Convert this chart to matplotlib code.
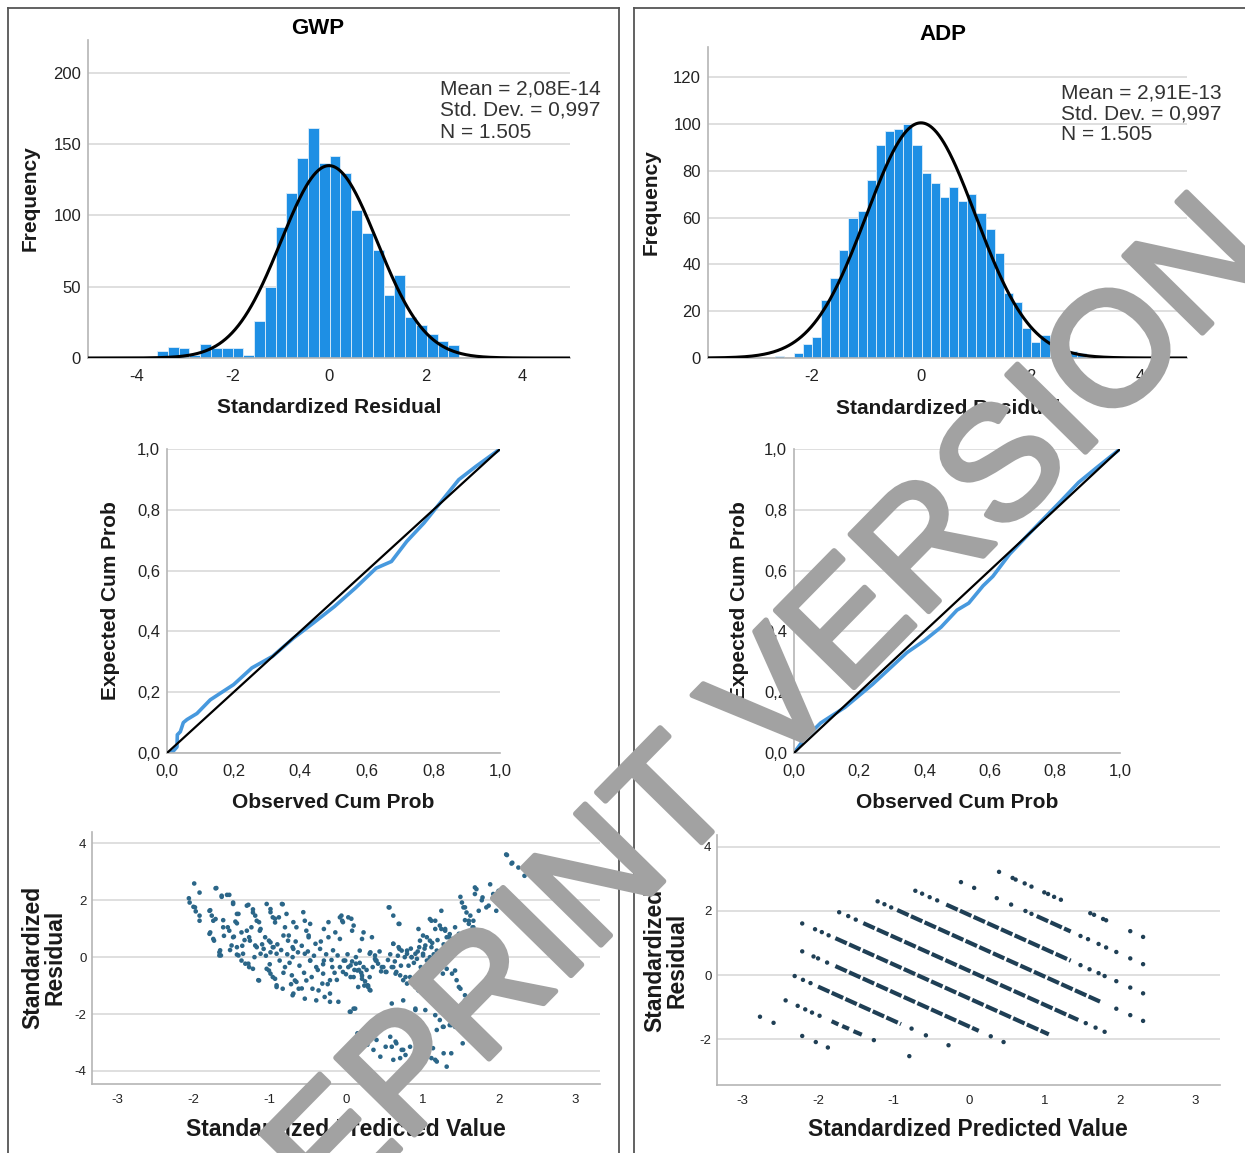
import numpy as np
import matplotlib
matplotlib.use('Agg')
import matplotlib.pyplot as plt
import matplotlib.patheffects as pe
from matplotlib.lines import Line2D

plt.rcParams['font.family'] = ['Liberation Sans', 'DejaVu Sans']
plt.rcParams['axes.unicode_minus'] = False

# ---------------- data ----------------
panel_titles = ['GWP', 'ADP']
stats_gwp = ['Mean = 2,08E-14', 'Std. Dev. = 0,997', 'N = 1.505']
stats_adp = ['Mean = 2,91E-13', 'Std. Dev. = 0,997', 'N = 1.505']
gwp_mean, gwp_sd, gwp_n = 2.08e-14, 0.997, 1505
adp_mean, adp_sd, adp_n = 2.91e-13, 0.997, 1505

gwp_hist_start = -3.57
gwp_bin_width = 0.224
gwp_counts = [5, 8, 7, 2, 10, 7, 7, 7, 2, 26, 50, 92, 116, 140, 161, 137, 142,
              130, 104, 88, 76, 44, 58, 29, 23, 17, 12, 9]

adp_hist_start = -2.66
adp_bin_width = 0.167
adp_counts = [1, 0, 2, 6, 9, 25, 34, 46, 60, 63, 76, 91, 97, 98, 100, 91, 79,
              75, 69, 73, 67, 70, 62, 55, 45, 28, 24, 13, 7, 10, 5, 3, 3, 2]

gwp_pp_obs = [0.0, 0.018, 0.03, 0.031, 0.04, 0.049, 0.06, 0.09, 0.13, 0.2, 0.255,
              0.317, 0.38, 0.44, 0.503, 0.566, 0.628, 0.674, 0.72, 0.772, 0.824,
              0.876, 0.928, 1.0]
gwp_pp_exp = [0.0, 0.005, 0.02, 0.06, 0.07, 0.10, 0.11, 0.13, 0.175, 0.225, 0.28,
              0.318, 0.378, 0.428, 0.482, 0.543, 0.608, 0.63, 0.696, 0.757, 0.828,
              0.899, 0.943, 1.0]
adp_pp_obs = [0.0, 0.03, 0.082, 0.156, 0.24, 0.346, 0.40, 0.451, 0.5, 0.536, 0.58,
              0.61, 0.662, 0.72, 0.768, 0.82, 0.873, 0.93, 1.0]
adp_pp_exp = [0.0, 0.044, 0.099, 0.15, 0.225, 0.33, 0.37, 0.414, 0.47, 0.493, 0.55,
              0.581, 0.655, 0.72, 0.773, 0.83, 0.89, 0.94, 1.0]
pp_ticks = [0.0, 0.2, 0.4, 0.6, 0.8, 1.0]
pp_tick_labels = ['0,0', '0,2', '0,4', '0,6', '0,8', '1,0']

gwp_scatter = [
    (-1.99, 2.59), (-2.06, 2.07), (-2.05, 1.92), (-2.0, 1.77), (-1.97, 1.61), (-1.92, 1.46),
    (-1.92, 1.28), (-1.71, 2.42), (-1.79, 1.63), (-1.76, 1.46), (-1.74, 1.28), (-1.79, 0.82),
    (-1.74, 0.64), (-1.66, 0.17), (-1.66, 0.06), (-1.63, 2.16), (-1.56, 2.19), (-1.61, 1.05),
    (-1.53, 0.93), (-1.48, 1.92), (-1.43, 1.52), (-1.48, 0.7), (-1.43, 0.35), (-1.35, 0.12),
    (-1.30, 1.81), (-1.22, 1.57), (-1.30, 0.93), (-1.27, 0.7), (-1.32, -0.23), (-1.27, -0.35),
    (-1.17, 1.28), (-1.12, 0.99), (-1.17, 0.35), (-1.12, 0.12), (-1.14, -0.82), (-0.99, 1.69),
    (-0.96, 1.4), (-0.93, 1.22), (-1.01, 0.58), (-0.96, 0.35), (-0.91, 0.12), (-1.01, -0.47),
    (-0.96, -0.70), (-0.91, -1.05), (-0.83, -1.11), (-0.83, 1.86), (-0.80, 1.05), (-0.75, 0.76),
    (-0.70, 0.35), (-0.70, 0.0), (-0.67, -0.82), (-0.62, -1.11), (-0.70, -1.34), (-0.54, 1.28),
    (-0.52, 0.93), (-0.49, 0.76), (-0.54, 0.12), (-0.47, -0.12), (-0.52, -0.82), (-0.44, -1.11),
    (-0.39, -1.52), (-0.29, 0.99), (-0.23, 0.70), (-0.29, -0.12), (-0.18, -0.35), (-0.31, -0.93),
    (-0.21, -1.28), (-0.10, -1.57), (-0.08, 1.40), (-0.05, 1.28), (0.03, 1.40), (0.08, 0.93),
    (-0.03, -0.12), (0.03, -0.35), (0.10, -0.70), (0.16, -1.05), (0.13, 0.0), (0.18, 0.23),
    (0.23, -0.35), (0.31, -0.70), (0.29, -1.05), (0.34, 0.70), (0.05, -1.92), (0.10, -1.81),
    (0.16, -2.68), (0.29, -2.97), (0.39, -0.12), (0.47, -0.35), (0.52, -0.52), (0.44, -2.45),
    (0.57, 1.75), (0.70, 1.17), (0.60, -0.35), (0.65, -0.58), (0.62, 0.47), (0.70, 0.29),
    (0.52, -3.15), (0.60, -3.15), (0.65, -2.97), (0.67, -2.21), (0.75, -2.10), (0.80, 0.23),
    (0.86, 0.0), (0.91, 0.12), (0.78, -0.70), (0.88, -0.93), (0.86, -2.51), (0.93, -2.68),
    (0.73, -3.26), (0.78, -3.44), (0.96, 0.35), (1.01, 0.12), (1.06, -0.12), (0.96, -2.91),
    (1.06, -3.26), (1.14, -3.2), (0.91, -1.86), (0.96, -2.21), (1.12, 1.28), (1.17, 0.99),
    (1.22, -0.35), (1.27, -0.58), (1.17, -3.61), (1.32, -3.85), (1.38, -3.38), (1.19, -2.56),
    (1.27, -2.45), (1.38, -2.39), (1.30, 0.93), (1.35, 0.70), (1.40, 0.52), (1.25, 1.63),
    (1.43, 1.05), (1.48, 0.82), (1.50, 2.12), (1.56, 1.75), (1.43, -0.47), (1.48, -1.05),
    (1.48, -2.33), (1.53, -3.03), (1.56, -1.52), (1.61, 1.28), (1.66, 1.05), (1.71, 0.76),
    (1.69, 2.45), (1.74, 1.63), (1.76, -1.28), (1.79, 2.10), (1.84, 1.75), (1.89, 2.56),
    (1.95, 2.10), (1.97, 1.63), (2.0, 2.33), (2.05, 1.98), (2.1, 3.61), (2.18, 3.32),
    (2.26, 3.15), (2.34, 2.86), (2.13, 1.86),
    (-1.92, 2.27), (-1.98, 1.75), (-1.70, 2.43), (-1.63, 2.12), (-1.53, 2.19), (-1.78, 1.65),
    (-1.71, 1.34), (-1.61, 1.30), (-1.78, 0.87), (-1.73, 0.58), (-1.65, 0.24), (-1.64, 0.06),
    (-1.48, 1.87), (-1.41, 1.52), (-1.43, 1.19), (-1.55, 1.05), (-1.47, 0.72), (-1.5, 0.41),
    (-1.43, 0.09), (-1.28, 1.84), (-1.22, 1.68), (-1.19, 1.46), (-1.14, 1.23), (-1.37, 0.87),
    (-1.33, 0.6), (-1.26, 0.58), (-1.19, 0.41), (-1.41, 0.06), (-1.37, -0.12), (-1.28, -0.23),
    (-1.22, -0.41), (-1.15, -0.81), (-1.04, 1.87), (-0.99, 1.58), (-0.93, 1.35), (-0.88, 1.40),
    (-1.13, 0.93), (-1.06, 0.70), (-0.99, 0.52), (-1.08, 0.29), (-0.99, 0.17), (-0.95, 0.35),
    (-1.04, -0.41), (-0.99, -0.58), (-0.93, -0.76), (-0.91, -0.99), (-0.84, 1.87), (-0.78, 1.52),
    (-0.69, 1.23), (-0.65, 1.05), (-0.82, 0.76), (-0.76, 0.58), (-0.69, 0.29), (-0.63, 0.17),
    (-0.87, -0.12), (-0.80, -0.35), (-0.71, -0.64), (-0.65, -0.87), (-0.58, -1.1), (-0.69, -1.28),
    (-0.54, -1.46), (-0.56, 1.58), (-0.47, 1.17), (-0.49, 0.70), (-0.40, 0.47), (-0.34, 0.29),
    (-0.47, -0.12), (-0.39, -0.35), (-0.30, -0.58), (-0.21, -0.81), (-0.36, -1.17), (-0.28, -1.40),
    (-0.21, -1.57), (-0.23, 1.23), (-0.14, 0.87), (-0.08, 0.64), (-0.06, 1.46), (-0.04, 1.23),
    (0.07, 1.35), (0.10, 1.11), (-0.17, 0.24), (-0.11, 0.06), (-0.01, -0.12), (0.06, -0.29),
    (0.15, -0.47), (0.21, -0.76), (0.28, -0.99), (0.32, -1.17), (-0.04, -0.52), (0.06, -0.7),
    (0.06, -1.92), (0.12, -1.81), (0.21, 0.64), (0.23, 0.87), (0.32, 0.17), (0.38, 0.06),
    (0.40, -0.12), (0.15, -2.68), (0.21, -2.97), (0.28, -3.08), (0.33, -2.45), (0.40, -2.33),
    (0.13, -0.23), (0.17, -0.45), (0.21, -0.65), (0.25, -0.85), (0.29, -1.0), (0.31, -1.15),
    (2.11, 3.59), (2.17, 3.29), (1.71, 2.39), (1.69, 2.22), (1.52, 1.92), (1.78, 2.0),
    (1.87, 1.81), (1.93, 2.22), (1.98, 1.93), (2.04, 1.87), (2.11, 1.81), (0.56, 1.75),
    (0.62, 1.46), (0.69, 1.17), (1.54, 1.75), (1.58, 1.57), (1.63, 1.46), (1.67, 1.28),
    (1.56, 1.30), (1.61, 1.17), (1.67, 1.05), (1.74, 0.93), (1.76, 0.64), (1.85, 0.81),
    (1.10, 1.34), (1.17, 1.28), (1.23, 1.11), (1.30, 0.99), (1.36, 0.81), (1.25, 0.99),
    (1.32, 0.70), (1.39, 0.64), (1.43, 0.52), (1.50, 0.81), (0.95, 0.99), (1.01, 0.76),
    (1.06, 0.70), (1.10, 0.58), (0.97, 0.58), (1.04, 0.41), (1.12, 0.35), (1.19, 0.23),
    (0.62, 0.47), (0.69, 0.35), (0.73, 0.23), (0.80, 0.12), (0.86, 0.0), (0.93, -0.06),
    (1.01, 0.06), (1.08, -0.12), (1.10, 0.0), (0.31, 0.12), (0.38, -0.06), (0.42, -0.23),
    (0.49, -0.35), (0.53, -0.52), (0.62, -0.35), (0.66, -0.52), (0.71, -0.64), (0.75, -0.81),
    (0.80, -0.93), (0.84, -0.70), (0.91, -1.05), (0.95, -1.17), (1.25, -0.23), (1.32, -0.41),
    (1.39, -0.58), (1.45, -0.81), (1.50, -1.11), (1.56, -1.34), (1.63, -1.40), (1.71, -1.40),
    (0.60, -1.63), (0.75, -1.52), (0.91, -1.81), (1.04, -1.86), (1.17, -2.04), (1.23, -2.21),
    (1.28, -2.45), (1.36, -2.39), (1.43, -2.45), (1.50, -2.56), (0.49, -2.45), (0.62, -2.27),
    (0.58, -2.80), (0.66, -3.03), (0.75, -3.26), (0.84, -3.15), (0.93, -2.91), (1.00, -3.38),
    (1.08, -3.20), (1.12, -3.55), (1.19, -3.67), (1.28, -3.38), (0.36, -3.26), (0.45, -3.50),
    (0.40, -2.91), (0.62, -3.61), (0.71, -3.55),
    (-1.10, 0.45), (-1.05, 0.05), (-1.00, -0.25), (-0.90, 0.45), (-0.85, 0.25), (-0.82, -0.55),
    (-0.77, 0.10), (-0.74, -0.20), (-0.72, -0.95), (-0.66, 0.55), (-0.61, -0.30), (-0.58, 0.40),
    (-0.55, -0.55), (-0.50, 0.20), (-0.45, -0.70), (-0.42, 0.05), (-0.37, -0.45), (-0.33, 0.55),
    (-0.30, -0.25), (-0.26, 0.10), (-0.24, -0.95), (-0.19, -0.10), (-0.15, -0.55), (-0.12, -0.80),
    (-0.08, -0.35), (0.00, -0.60), (0.02, 0.10), (0.08, -0.15), (0.11, -0.45), (0.18, -0.20),
    (0.20, -0.55), (0.24, -1.00), (0.27, -0.45), (0.35, -0.35), (0.44, 0.20), (0.46, -0.50),
    (0.55, -0.10), (0.58, 0.10), (0.64, -0.15), (0.68, 0.05), (0.72, -0.30), (0.77, 0.00),
    (0.82, -0.30), (0.85, 0.30), (0.89, -0.20), (0.94, 0.20), (0.98, -0.35), (1.03, 0.30),
    (1.05, -0.50), (1.13, 0.50), (1.15, 0.10), (1.20, 0.60), (1.28, 0.45), (1.33, 0.15),
    (-1.60, 0.75), (-1.52, 0.25), (-1.45, 1.25), (-1.36, 0.40), (-1.24, 1.05), (-1.20, 0.00),
]
gwp_sx = [p[0] for p in gwp_scatter]
gwp_sy = [p[1] for p in gwp_scatter]

# ADP residual plot: isolated points and dense runs (start x,y -> end x,y)
adp_dots = [
    (-2.77, -1.30), (-2.59, -1.49), (-2.21, -1.90), (-2.03, -2.09), (-1.87, -2.26),
    (-2.43, -0.79), (-2.27, -0.96), (-2.17, -1.07), (-2.08, -1.17), (-1.98, -1.27), (-1.26, -2.03), (-0.79, -2.53),
    (-2.31, -0.03), (-2.2, -0.15), (-2.1, -0.25), (-0.76, -1.67), (-0.57, -1.88), (-0.27, -2.19),
    (-2.21, 0.74), (-2.06, 0.58), (-2.0, 0.52), (-1.88, 0.39), (0.29, -1.91), (0.46, -2.09),
    (-2.21, 1.61), (-2.04, 1.43), (-1.95, 1.34), (-1.86, 1.24),
    (-1.72, 1.96), (-1.6, 1.84), (-1.5, 1.73), (1.55, -1.50), (1.68, -1.64), (1.80, -1.77),
    (-1.21, 2.30), (-1.12, 2.21), (-1.03, 2.11), (1.955, -1.05), (2.14, -1.25), (2.31, -1.43),
    (-0.71, 2.63), (-0.62, 2.54), (-0.52, 2.43), (-0.42, 2.33), (1.48, 0.31), (1.6, 0.18),
    (1.72, 0.06), (1.80, -0.03), (1.955, -0.19), (2.14, -0.39), (2.31, -0.57),
    (-0.105, 2.90), (0.07, 2.72), (0.37, 2.40), (0.56, 2.20), (0.75, 2.0), (0.83, 1.91),
    (1.48, 1.22), (1.58, 1.12), (1.72, 0.97), (1.82, 0.86), (1.955, 0.72), (2.14, 0.52), (2.31, 0.34),
    (0.40, 3.22), (0.58, 3.03), (0.62, 2.98), (0.74, 2.86), (0.83, 2.76), (1.0, 2.58), (1.05, 2.53),
    (1.13, 2.44), (1.22, 2.35), (1.61, 1.93), (1.66, 1.88), (1.78, 1.75), (1.82, 1.71), (2.14, 1.37), (2.31, 1.19),
]
adp_runs = [
    (-1.82, -1.44, -1.73, -1.54), (-1.68, -1.59, -1.59, -1.68), (-1.53, -1.75, -1.42, -1.86),
    (-2.0, -0.36, -0.9, -1.53),
    (-1.77, 0.28, 0.13, -1.74),
    (-1.77, 1.15, 1.06, -1.85),
    (-1.4, 1.62, 1.45, -1.40),
    (-0.95, 2.03, 1.75, -0.84),
    (-0.3, 2.2, 1.35, 0.45),
    (0.9, 1.84, 1.35, 1.36),
]
adp_dx = [p[0] for p in adp_dots]
adp_dy = [p[1] for p in adp_dots]

# ---------------- figure ----------------
W, H = 1245, 1153
fig = plt.figure(figsize=(W / 100, H / 100), dpi=100)


def px_axes(l, t, r, b):
    return fig.add_axes([l / W, 1 - b / H, (r - l) / W, (b - t) / H])


def ftext(x, y, s, **kw):
    return fig.text(x / W, 1 - y / H, s, **kw)


BAR = '#1e8fe4'
GRID = '#d6d6d6'
SPINE = '#b5b5b5'
TXT = '#222222'
LAB = dict(fontsize=15, fontweight='bold', color='#1a1a1a', ha='center', va='center')


def style(ax, labelsize=12, padx=6, pady=4):
    for s in ['top', 'right']:
        ax.spines[s].set_visible(False)
    for s in ['left', 'bottom']:
        ax.spines[s].set_color(SPINE)
        ax.spines[s].set_linewidth(1.2)
    ax.tick_params(length=0, labelsize=labelsize, colors=TXT)
    ax.tick_params(axis='x', pad=padx)
    ax.tick_params(axis='y', pad=pady)
    ax.yaxis.grid(True, color=GRID, lw=1.1)
    ax.set_axisbelow(True)


def hist_panel(ax, start, width, counts, mean, sd, n, xlim, ylim, yticks, xticks):
    edges = start + width * np.arange(len(counts))
    ax.bar(edges, counts, width=width, align='edge', color=BAR,
           edgecolor='#dfeefa', linewidth=0.6, zorder=2)
    xs = np.linspace(xlim[0], xlim[1], 600)
    ys = n * width * np.exp(-0.5 * ((xs - mean) / sd) ** 2) / (sd * np.sqrt(2 * np.pi))
    ax.plot(xs, ys, color='black', lw=2.2, zorder=3)
    ax.set_xlim(*xlim)
    ax.set_ylim(*ylim)
    ax.set_yticks(yticks)
    ax.set_xticks(xticks)
    style(ax, labelsize=12, padx=8, pady=5)


# Histograms
ax1 = px_axes(88, 40, 570, 358)
hist_panel(ax1, gwp_hist_start, gwp_bin_width, gwp_counts, gwp_mean, gwp_sd, gwp_n,
           (-5, 5), (0, 223), [0, 50, 100, 150, 200], [-4, -2, 0, 2, 4])
ax2 = px_axes(708, 47, 1187, 358)
hist_panel(ax2, adp_hist_start, adp_bin_width, adp_counts, adp_mean, adp_sd, adp_n,
           (-3.89, 4.86), (0, 133), [0, 20, 40, 60, 80, 100, 120], [-2, 0, 2, 4])

ftext(318, 28, panel_titles[0], fontsize=16, fontweight='bold', ha='center', va='center')
ftext(943, 35, panel_titles[1], fontsize=16, fontweight='bold', ha='center', va='center')
for i, s in enumerate(stats_gwp):
    ftext(440, 89 + 21.5 * i, s, fontsize=15, color='#333333', ha='left', va='center')
for i, s in enumerate(stats_adp):
    ftext(1061, 93 + 21 * i, s, fontsize=15, color='#333333', ha='left', va='center')
ftext(30, 198, 'Frequency', rotation=90, **LAB)
ftext(329, 407, 'Standardized Residual', **LAB)
ftext(651, 202, 'Frequency', rotation=90, **LAB)
ftext(948, 408, 'Standardized Residual', **LAB)

# P-P plots
for (l, r), obs, exp, ylx, xlx in [((167, 500), gwp_pp_obs, gwp_pp_exp, 110, 333),
                                   ((794, 1120), adp_pp_obs, adp_pp_exp, 740, 957)]:
    ax = px_axes(l, 449, r, 753)
    ax.plot(obs, exp, color='#4799de', lw=2.6, zorder=2, solid_capstyle='round')
    ax.plot([0, 1], [0, 1], color='black', lw=1.6, zorder=3)
    ax.set_xlim(0, 1)
    ax.set_ylim(0, 1)
    ax.set_xticks(pp_ticks)
    ax.set_xticklabels(pp_tick_labels)
    ax.set_yticks(pp_ticks)
    ax.set_yticklabels(pp_tick_labels)
    style(ax, labelsize=12, padx=8, pady=5)
    ftext(ylx, 601, 'Expected Cum Prob', rotation=90, **LAB)
    ftext(xlx, 802, 'Observed Cum Prob', **LAB)

# Residual scatter plots
ax5 = px_axes(92, 832, 600, 1084)
ax5.scatter(gwp_sx, gwp_sy, s=11, color='#2b6688', edgecolors='none', zorder=3)
ax5.set_xlim(-3.33, 3.33)
ax5.set_ylim(-4.46, 4.4)
ax5.set_xticks([-3, -2, -1, 0, 1, 2, 3])
ax5.set_yticks([-4, -2, 0, 2, 4])
style(ax5, labelsize=9.5, padx=7, pady=4)

ADPC = '#1f3f55'
ax6 = px_axes(717, 835, 1220, 1085)
ax6.scatter(adp_dx, adp_dy, s=10, color=ADPC, edgecolors='none', zorder=3)
for x0, y0, x1, y1 in adp_runs:
    ax6.plot([x0, x1], [y0, y1], color=ADPC, lw=3.0, linestyle=(0, (3.0, 0.6)),
             zorder=3)
ax6.set_xlim(-3.34, 3.33)
ax6.set_ylim(-3.43, 4.37)
ax6.set_xticks([-3, -2, -1, 0, 1, 2, 3])
ax6.set_yticks([-2, 0, 2, 4])
style(ax6, labelsize=9.5, padx=7, pady=4)

SLAB = dict(fontsize=16.5, fontweight='bold', color='#1a1a1a', ha='center', va='center')
ftext(44, 957, 'Standardized\nResidual', rotation=90, linespacing=0.95, **SLAB)
ftext(346, 1130, 'Standardized Predicted Value', **SLAB)
ftext(666, 960, 'Standardized\nResidual', rotation=90, linespacing=0.95, **SLAB)
ftext(968, 1130, 'Standardized Predicted Value', **SLAB)

# panel frames
BOX = '#555555'
for seg in [((8, 8), (8, 1153)), ((8, 8), (619, 8)), ((619, 8), (619, 1153)),
            ((634, 8), (634, 1153)), ((634, 8), (1245, 8))]:
    (xa, ya), (xb, yb) = seg
    fig.add_artist(Line2D([xa / W, xb / W], [1 - ya / H, 1 - yb / H],
                          transform=fig.transFigure, color=BOX, lw=1.3))

# watermark
WM = '#a2a2a2'
ftext(695, 790, 'PREPRINT VERSION', rotation=45.5, rotation_mode='anchor',
      ha='center', va='center', fontsize=115, color=WM, zorder=10,
      path_effects=[pe.withStroke(linewidth=4, foreground=WM)])

fig.savefig('out.png', dpi=100)
